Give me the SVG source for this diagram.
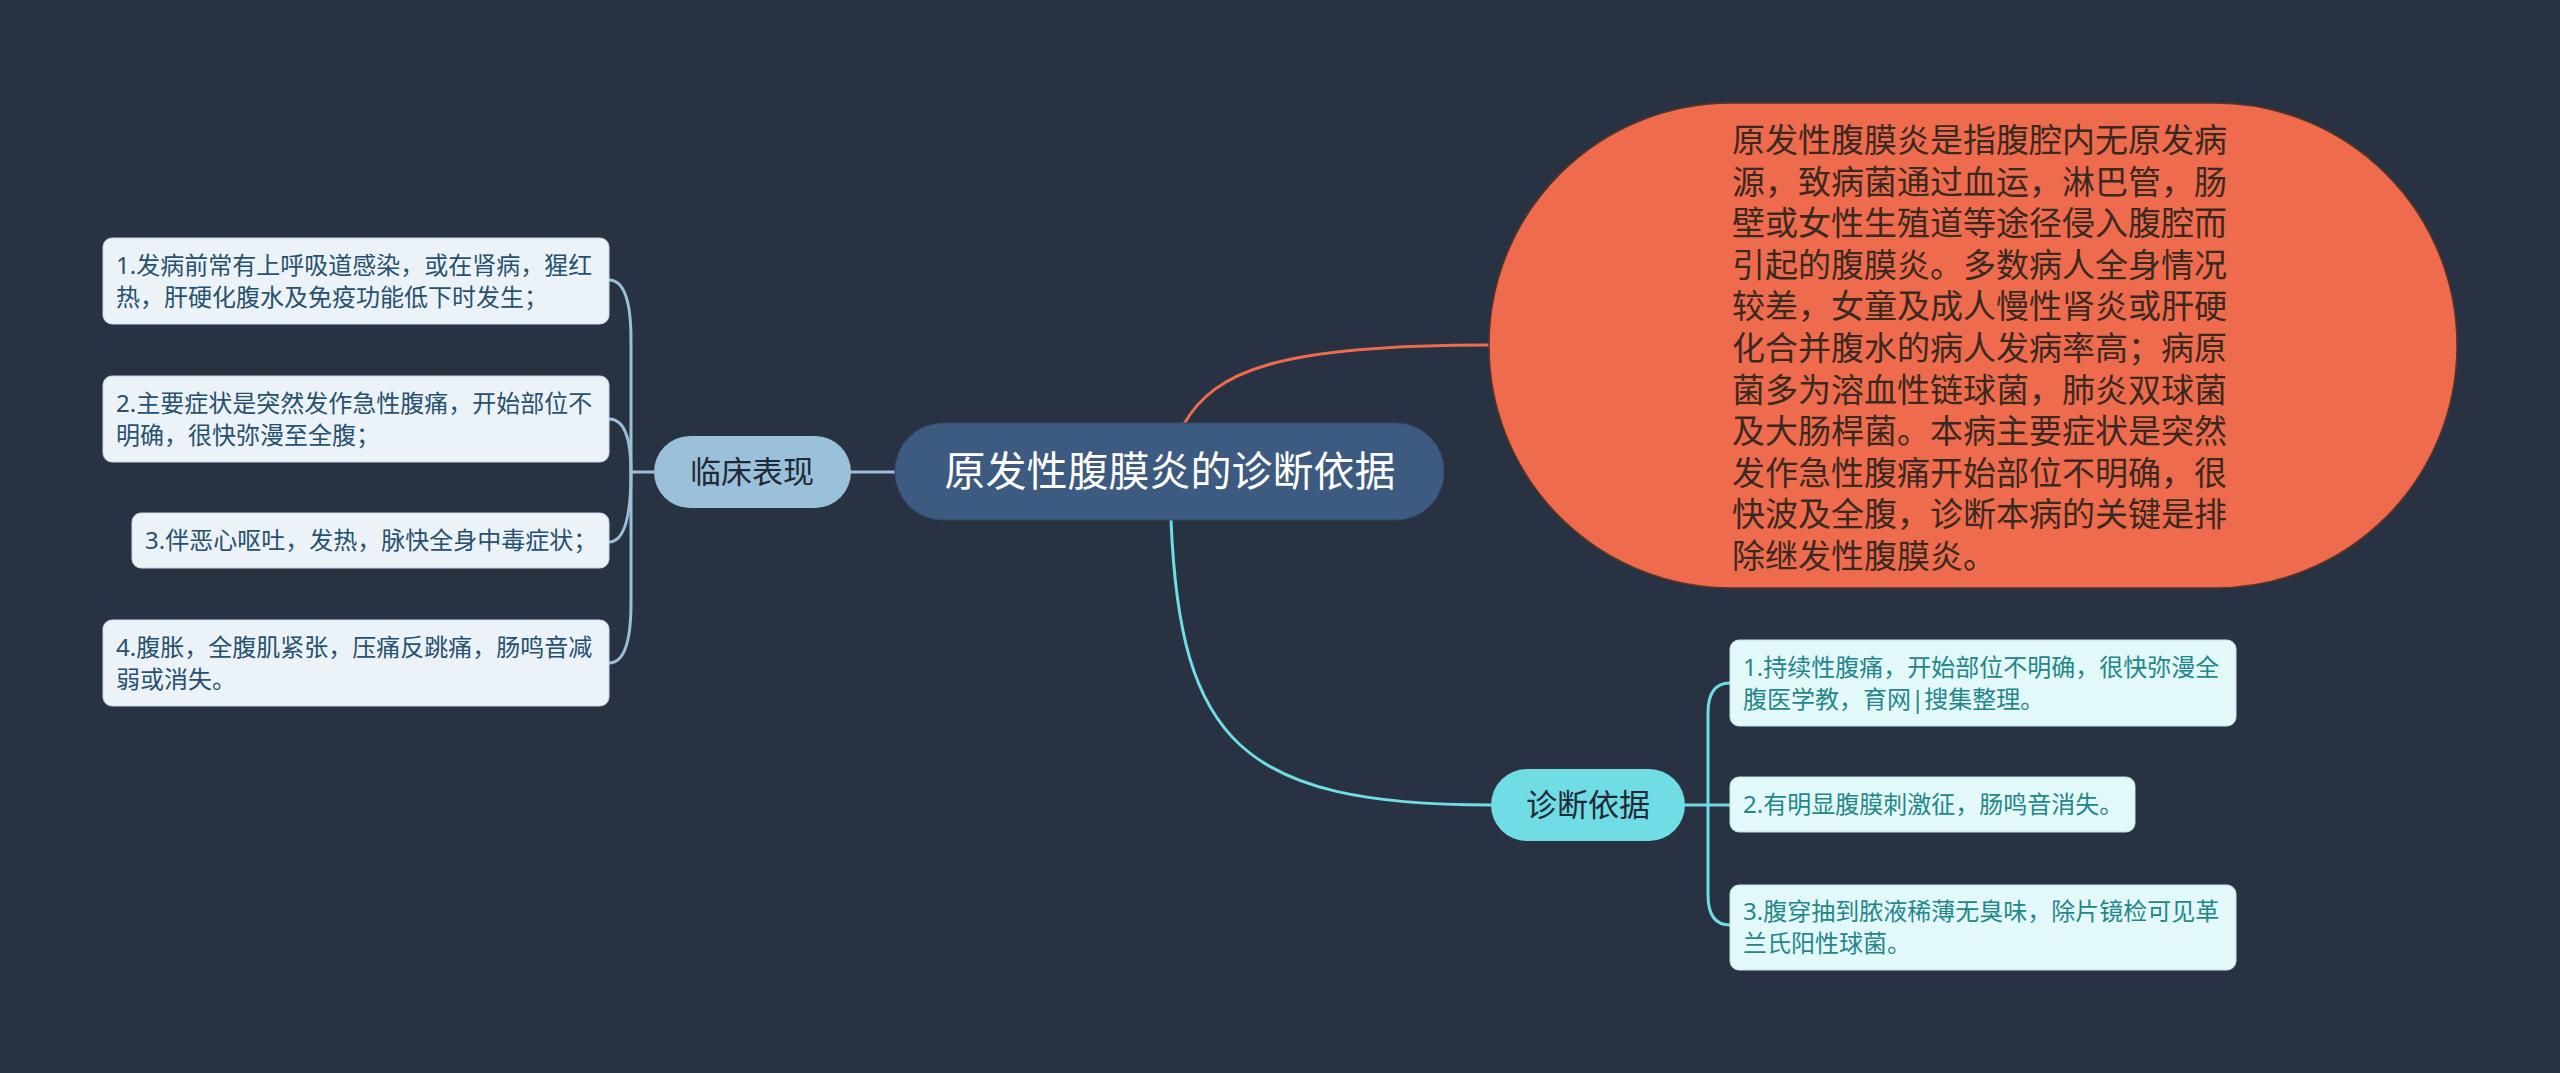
<svg xmlns="http://www.w3.org/2000/svg" width="2560" height="1073" viewBox="0 0 2560 1073">
<style>
  text { font-family: "Noto Sans", "Noto Sans CJK SC", sans-serif; }
  .conn { fill: none; stroke-width: 3; stroke-linecap: round; }
  .blue { stroke: #9ac0da; }
  .cyan { stroke: #6fdde3; }
  .orange { stroke: #ee6b4d; }
  .lbox { fill: #ebf3f8; stroke: #c9d9e4; stroke-width: 1; }
  .rbox { fill: #e3f8f8; stroke: #c2e6e6; stroke-width: 1; }
  .ltxt { font-size: 24px; fill: #28506f; }
  .rtxt { font-size: 24px; fill: #23878a; }
  .otxt { font-size: 33px; fill: #3a2920; }
  .sub { font-size: 31px; fill: #1f2a36; text-anchor: middle; }
</style>
<rect x="0" y="0" width="2560" height="1073" fill="#293242"/>

<g id="connectors">
  <path class="conn orange" d="M 1184,424 C 1215,370 1280,345 1489,345"/>
  <path class="conn cyan" d="M 1171,520 C 1180,740 1240,805 1491,805"/>
  <path class="conn blue" d="M 851,472 L 895,472"/>
  <path class="conn blue" d="M 654,472 L 631,472"/>
  <path class="conn blue" d="M 631,472 L 631,340 Q 631,280 609,280"/>
  <path class="conn blue" d="M 631,472 Q 631,419 609,419"/>
  <path class="conn blue" d="M 631,472 Q 631,542 609,542"/>
  <path class="conn blue" d="M 631,472 L 631,603 Q 631,663 609,663"/>
  <path class="conn cyan" d="M 1685,805 L 1730,805"/>
  <path class="conn cyan" d="M 1708,805 L 1708,713 Q 1708,683 1730,683"/>
  <path class="conn cyan" d="M 1708,805 L 1708,895 Q 1708,925 1730,925"/>
</g>

<g id="root">
  <rect x="895" y="423" width="549" height="97" rx="48" fill="#3d5a80" stroke="#31496a" stroke-width="1"/>
  <text x="1170" y="486" font-size="41" fill="#ffffff" text-anchor="middle">原发性腹膜炎的诊断依据</text>
</g>

<g id="definition">
  <rect x="1489" y="103" width="968" height="485" rx="242" ry="242" fill="#ee6b4d" stroke="#5a3426" stroke-width="1.5"/>
  <text class="otxt" x="1732">
    <tspan x="1732" y="152">原发性腹膜炎是指腹腔内无原发病</tspan>
    <tspan x="1732" y="193.6">源，致病菌通过血运，淋巴管，肠</tspan>
    <tspan x="1732" y="235.2">壁或女性生殖道等途径侵入腹腔而</tspan>
    <tspan x="1732" y="276.8">引起的腹膜炎。多数病人全身情况</tspan>
    <tspan x="1732" y="318.4">较差，女童及成人慢性肾炎或肝硬</tspan>
    <tspan x="1732" y="360">化合并腹水的病人发病率高；病原</tspan>
    <tspan x="1732" y="401.6">菌多为溶血性链球菌，肺炎双球菌</tspan>
    <tspan x="1732" y="443.2">及大肠桿菌。本病主要症状是突然</tspan>
    <tspan x="1732" y="484.8">发作急性腹痛开始部位不明确，很</tspan>
    <tspan x="1732" y="526.4">快波及全腹，诊断本病的关键是排</tspan>
    <tspan x="1732" y="568">除继发性腹膜炎。</tspan>
  </text>
</g>

<g id="clinical">
  <rect x="654" y="436" width="197" height="72" rx="36" fill="#9ac0da"/>
  <text class="sub" x="752" y="483">临床表现</text>
</g>

<g id="clinical-1">
  <rect class="lbox" x="103" y="238" width="506" height="86" rx="9"/>
  <text class="ltxt"><tspan x="116" y="274">1.发病前常有上呼吸道感染，或在肾病，猩红</tspan><tspan x="116" y="306">热，肝硬化腹水及免疫功能低下时发生；</tspan></text>
</g>
<g id="clinical-2">
  <rect class="lbox" x="103" y="376" width="506" height="86" rx="9"/>
  <text class="ltxt"><tspan x="116" y="412">2.主要症状是突然发作急性腹痛，开始部位不</tspan><tspan x="116" y="444">明确，很快弥漫至全腹；</tspan></text>
</g>
<g id="clinical-3">
  <rect class="lbox" x="132" y="513" width="477" height="55" rx="9"/>
  <text class="ltxt" x="145" y="549">3.伴恶心呕吐，发热，脉快全身中毒症状；</text>
</g>
<g id="clinical-4">
  <rect class="lbox" x="103" y="620" width="506" height="86" rx="9"/>
  <text class="ltxt"><tspan x="116" y="656">4.腹胀，全腹肌紧张，压痛反跳痛，肠鸣音减</tspan><tspan x="116" y="688">弱或消失。</tspan></text>
</g>

<g id="diagnosis">
  <rect x="1491" y="769" width="194" height="72" rx="36" fill="#6fdde3"/>
  <text class="sub" x="1588" y="816">诊断依据</text>
</g>

<g id="diagnosis-1">
  <rect class="rbox" x="1730" y="640" width="506" height="86" rx="9"/>
  <text class="rtxt"><tspan x="1743" y="676">1.持续性腹痛，开始部位不明确，很快弥漫全</tspan><tspan x="1743" y="708">腹医学教，育网|搜集整理。</tspan></text>
</g>
<g id="diagnosis-2">
  <rect class="rbox" x="1730" y="777" width="405" height="55" rx="9"/>
  <text class="rtxt" x="1743" y="813">2.有明显腹膜刺激征，肠鸣音消失。</text>
</g>
<g id="diagnosis-3">
  <rect class="rbox" x="1730" y="885" width="506" height="85" rx="9"/>
  <text class="rtxt"><tspan x="1743" y="920">3.腹穿抽到脓液稀薄无臭味，除片镜检可见革</tspan><tspan x="1743" y="952">兰氏阳性球菌。</tspan></text>
</g>
</svg>
